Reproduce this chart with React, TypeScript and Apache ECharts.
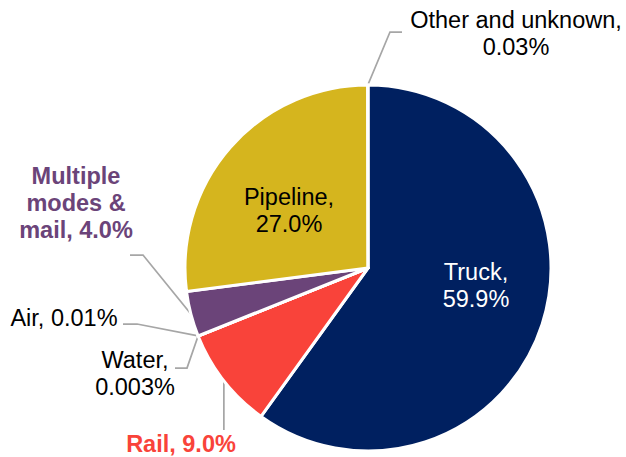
import React, { useEffect, useRef } from "react";
import * as echarts from "echarts";

// ---- data ----
const categories = ["Truck", "Rail", "Water", "Air", "Multiple modes & mail", "Pipeline", "Other and unknown"];
const shares = [59.9, 9.0, 0.003, 0.01, 4.0, 27.0, 0.03];
// how each category name is written in its label (line breaks as in the reference)
const labelNames = ["Truck,\n", "Rail, ", "Water,\n", "Air, ", "Multiple\nmodes &\nmail, ", "Pipeline,\n", "Other and unknown,\n"];

// ---- styles ----
const sliceColors = ["#002060", "#F9433A", "#A6A6A6", "#A6A6A6", "#6B4479", "#D5B51E", "#A6A6A6"];
const labelColors = ["#FFFFFF", "#F9433A", "#000000", "#000000", "#6B4479", "#000000", "#000000"];
const labelBold = [false, true, false, false, true, false, false];
const labelInside = [true, false, false, false, false, true, false];

// ---- label placement (layout, not data) ----
type Placement = { x: number; y: number; line?: number[][]; drop?: number };
const placements: Placement[] = [
  { x: 476, y: 285 },
  { x: 181, y: 444, drop: 430 },
  { x: 135, y: 373, line: [[187, 368], [175, 368]] },
  { x: 64, y: 318, line: [[137, 324], [123, 324]] },
  { x: 76, y: 203, line: [[143, 255], [130, 255]] },
  { x: 289, y: 210 },
  { x: 516, y: 33, line: [[390, 32], [402, 32]] },
];

const CENTER = [368, 268];
const RADIUS = 183;

function fmt(v: number): string {
  return v >= 1 ? v.toFixed(1) : String(v);
}

export default function App() {
  const ref = useRef<HTMLDivElement>(null);
  useEffect(() => {
    if (!ref.current) return;
    const chart = echarts.init(ref.current, undefined, { renderer: "svg" });
    const total = shares.reduce((a, b) => a + b, 0);
    const data = categories.map((name, i) => ({
      name,
      value: shares[i],
      itemStyle: { color: sliceColors[i] },
      label: {
        show: true,
        position: labelInside[i] ? "inside" : "outside",
        color: labelColors[i],
        fontWeight: labelBold[i] ? "bold" : "normal",
        formatter: labelNames[i] + fmt(shares[i]) + "%",
      },
      labelLine: { show: !labelInside[i] },
    }));
    chart.setOption({
      animation: false,
      backgroundColor: "#FFFFFF",
      series: [
        {
          type: "pie",
          center: CENTER,
          radius: RADIUS,
          startAngle: 90,
          clockwise: true,
          avoidLabelOverlap: false,
          silent: true,
          itemStyle: { borderColor: "#FFFFFF", borderWidth: 3 },
          label: {
            fontFamily: "'Liberation Sans', Arial, sans-serif",
            fontSize: 23.5,
            lineHeight: 27,
            align: "center",
          },
          labelLine: {
            length: 10,
            length2: 10,
            lineStyle: { color: "#A6A6A6", width: 1.75 },
          },
          labelLayout: (params: any) => {
            const i = params.dataIndex;
            const p = placements[i];
            const res: any = { x: p.x, y: p.y, align: "center", verticalAlign: "middle" };
            if (p.line || p.drop != null) {
              let start = params.labelLinePoints && params.labelLinePoints[0];
              if (!start) {
                let cum = 0;
                for (let k = 0; k < i; k++) cum += shares[k];
                const mid = ((cum + shares[i] / 2) / total) * Math.PI * 2;
                start = [CENTER[0] + RADIUS * Math.sin(mid), CENTER[1] - RADIUS * Math.cos(mid)];
              }
              if (p.line) {
                res.labelLinePoints = [start, ...p.line];
              } else {
                res.labelLinePoints = [start, [start[0], (start[1] + (p.drop as number)) / 2], [start[0], p.drop]];
              }
            }
            return res;
          },
          data,
        },
      ],
    });
    return () => chart.dispose();
  }, []);
  return <div ref={ref} style={{ position: "fixed", left: 0, top: 0, width: 626, height: 457 }} />;
}
